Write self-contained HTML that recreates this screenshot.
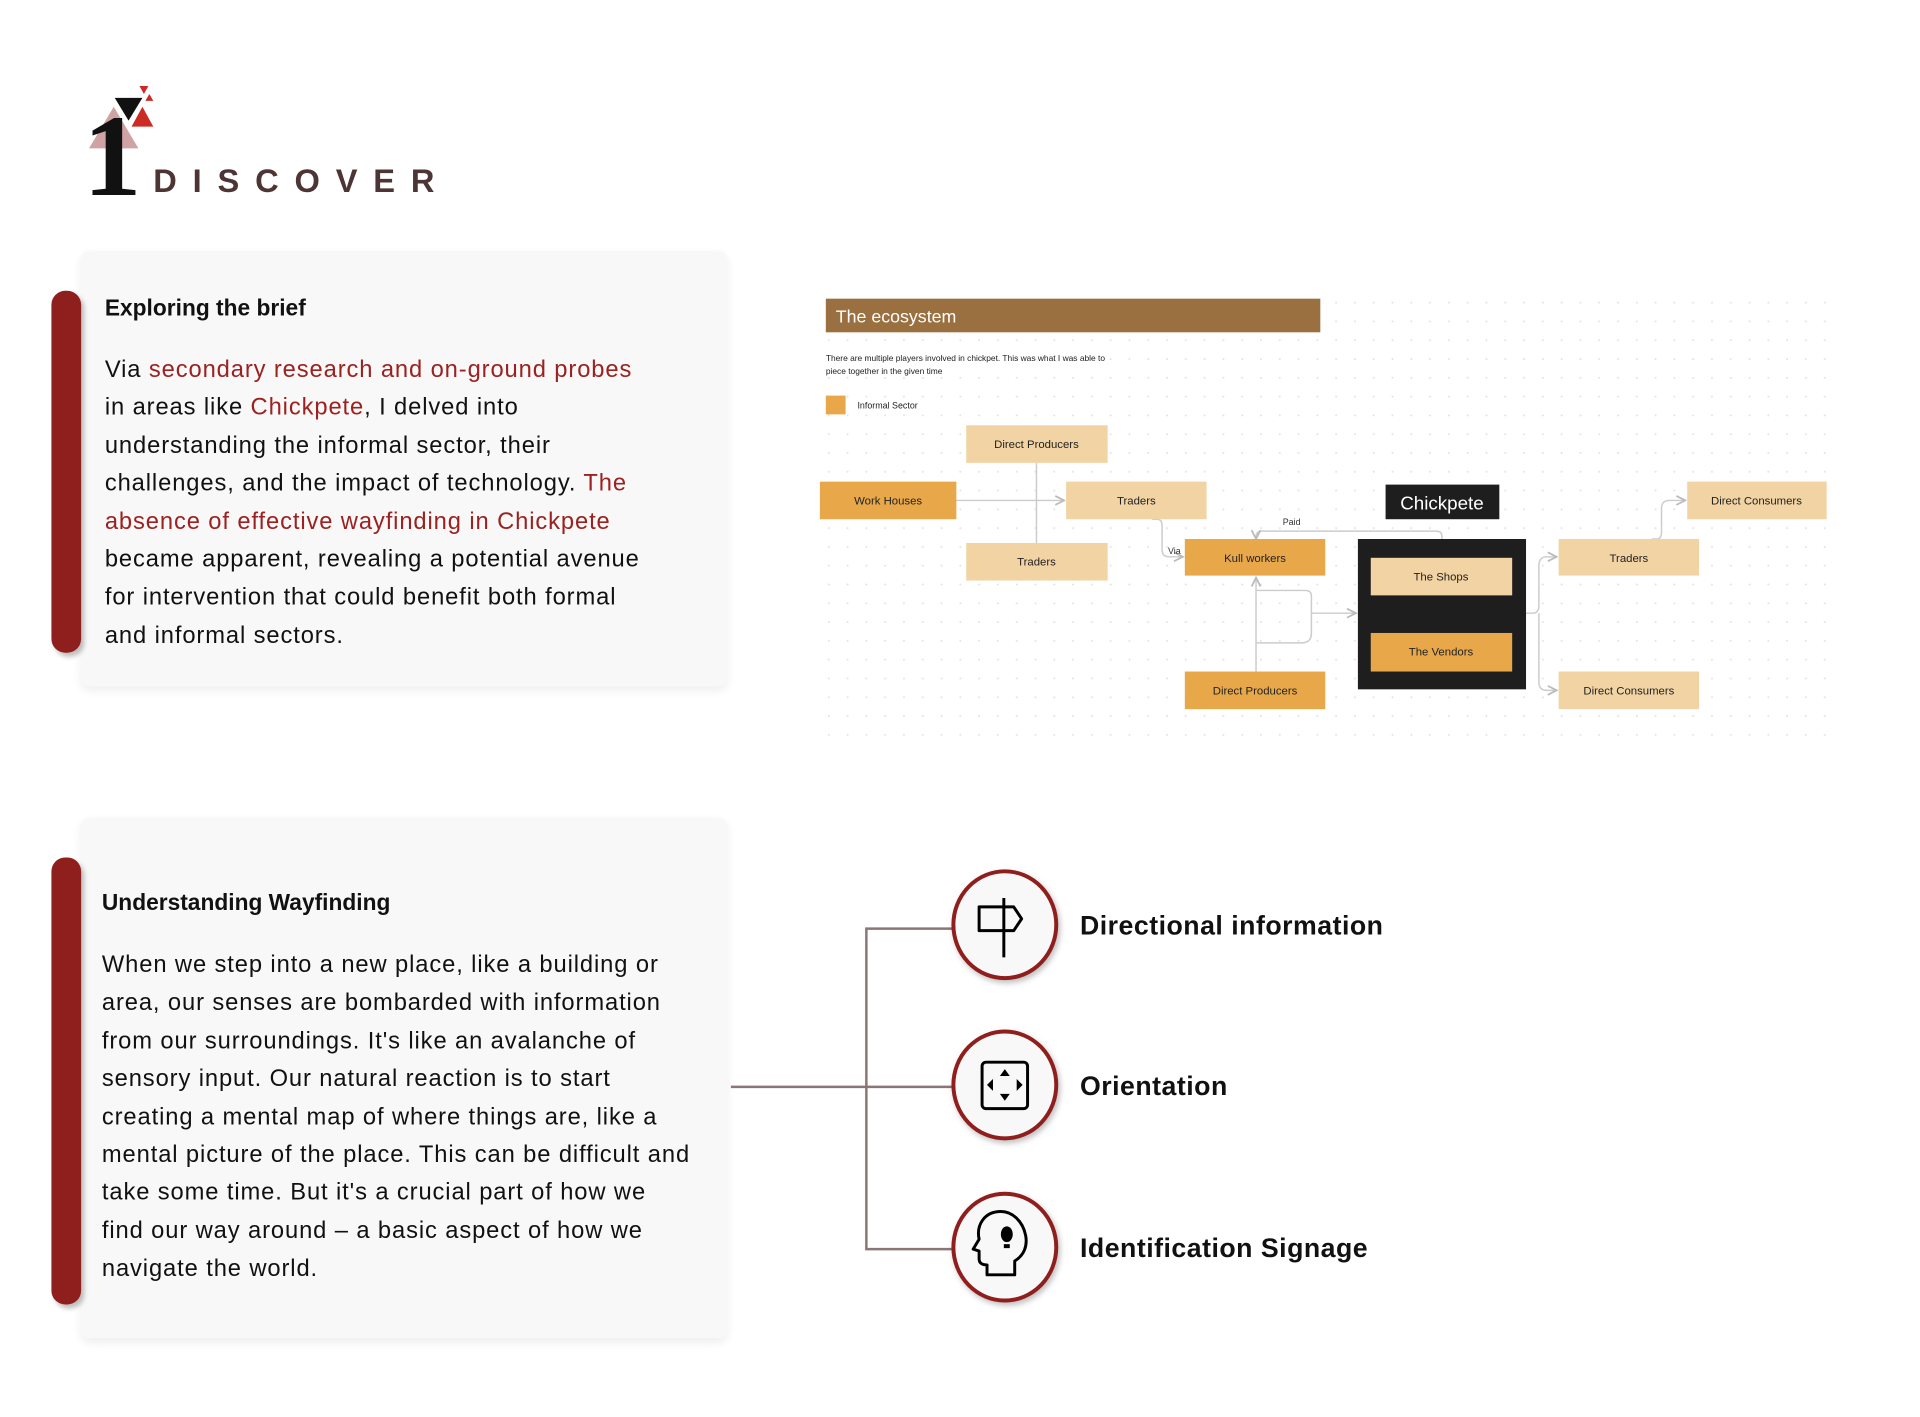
<!DOCTYPE html>
<html><head><meta charset="utf-8"><style>
*{margin:0;padding:0;box-sizing:border-box}
body{width:1920px;height:1417px;background:#fff;overflow:hidden;font-family:"Liberation Sans",sans-serif;color:#111}
#w{position:absolute;left:0;top:0;width:1920px;height:1417px;transform:scale(0.989);transform-origin:0 0}
.card{position:absolute;background:#f8f8f8;border-radius:8px;box-shadow:0 4px 10px rgba(0,0,0,0.07)}
.bar{position:absolute;background:#8f1f1d;border-radius:14px;box-shadow:3px 4px 5px rgba(0,0,0,0.25)}
.h{position:absolute;font-weight:bold;font-size:23px;white-space:nowrap}
.p{position:absolute;font-size:24px;line-height:38.4px;white-space:nowrap;letter-spacing:0.9px}
.r{color:#9b2220}
</style></head><body><div id="w">

<svg style="position:absolute;left:0;top:0" width="560" height="220">
<polygon points="90,150 140,150 115,108" fill="#cfa3a3"/>
<polygon points="116,99 144,99 130,122" fill="#111"/>
<polygon points="133,128 155,128 144,108" fill="#cc2a24"/>
<polygon points="141,87 150,87 145.5,95" fill="#cc2a24"/>
<polygon points="147,102 155,102 151,95" fill="#cc2a24"/>
<text x="84" y="197" font-family="Liberation Serif" font-weight="bold" font-size="118" fill="#111">1</text>
<text x="155" y="194" font-family="Liberation Sans" font-weight="bold" font-size="33" fill="#4d3535" letter-spacing="16">DISCOVER</text>
</svg>

<div class="card" style="left:82px;top:254px;width:653px;height:440px"></div>
<div class="bar" style="left:52px;top:294px;width:30px;height:366px"></div>
<div class="h" style="left:106px;top:298px">Exploring the brief</div>
<div class="p" style="left:106px;top:355px">Via <span class="r">secondary research and on-ground probes</span><br>in areas like <span class="r">Chickpete</span>, I delved into<br>understanding the informal sector, their<br>challenges, and the impact of technology. <span class="r">The</span><br><span class="r">absence of effective wayfinding in Chickpete</span><br>became apparent, revealing a potential avenue<br>for intervention that could benefit both formal<br>and informal sectors.</div>

<div class="card" style="left:82px;top:827px;width:653px;height:526px"></div>
<div class="bar" style="left:52px;top:867px;width:30px;height:452px"></div>
<div class="h" style="left:103px;top:899px">Understanding Wayfinding</div>
<div class="p" style="left:103px;top:957px">When we step into a new place, like a building or<br>area, our senses are bombarded with information<br>from our surroundings. It's like an avalanche of<br>sensory input. Our natural reaction is to start<br>creating a mental map of where things are, like a<br>mental picture of the place. This can be difficult and<br>take some time. But it's a crucial part of how we<br>find our way around – a basic aspect of how we<br>navigate the world.</div>

<svg style="position:absolute;left:0;top:0" width="1920" height="1417" font-family="Liberation Sans">
<defs>
<pattern id="dots" width="19" height="19" patternUnits="userSpaceOnUse"><circle cx="2" cy="2" r="1" fill="#e2e2e2"/></pattern>
<marker id="ar" markerWidth="8" markerHeight="8" refX="7" refY="4" orient="auto"><path d="M1,1 L7,4 L1,7" fill="none" stroke="#bbb" stroke-width="1.2"/></marker>
</defs>
<rect x="832" y="295" width="1030" height="455" fill="url(#dots)"/>
<rect x="835" y="302" width="500" height="34" fill="#9a7040"/>
<text x="845" y="326" font-size="18" fill="#fff">The ecosystem</text>
<text x="835" y="365" font-size="8.5" fill="#222">There are multiple players involved in chickpet. This was what I was able to</text>
<text x="835" y="378" font-size="8.5" fill="#222">piece together in the given time</text>
<rect x="835" y="400" width="20" height="19" fill="#e8a84a"/>
<text x="867" y="413" font-size="9" fill="#222">Informal Sector</text>

<g stroke="#ccc" stroke-width="1.5" fill="none">
<path d="M1048,468 V549"/>
<path d="M967,506 H1076" marker-end="url(#ar)"/>
<path d="M1165,525 H1170 Q1175,525 1175,532 V556 Q1175,563 1182,563 H1196" marker-end="url(#ar)"/>
<path d="M1458,545 V542 Q1458,537 1452,537 H1276 Q1270,537 1270,543 V545" marker-end="url(#ar)"/>
<path d="M1270,679 V584" marker-end="url(#ar)"/>
<path d="M1270,597 H1320 Q1326,597 1326,603 V640 Q1326,650 1316,650 H1270"/>
<path d="M1326,620 H1371" marker-end="url(#ar)"/>
<path d="M1543,620 H1550 Q1556,620 1556,612 V572 Q1556,563 1564,563 H1574" marker-end="url(#ar)"/>
<path d="M1556,620 V690 Q1556,698 1564,698 H1574"  marker-end="url(#ar)"/>
<path d="M1670,545 H1675 Q1680,545 1680,538 V514 Q1680,506 1688,506 H1704" marker-end="url(#ar)"/>
</g>
<text x="1297" y="531" font-size="9" fill="#333">Paid</text>
<text x="1181" y="560" font-size="9" fill="#333">Via</text>

<g font-size="11.5" text-anchor="middle" fill="#222">
<rect x="977" y="430" width="143" height="38" fill="#f2d3a3"/><text x="1048" y="453">Direct Producers</text>
<rect x="829" y="487" width="138" height="38" fill="#e8a84a"/><text x="898" y="510">Work Houses</text>
<rect x="1078" y="487" width="142" height="38" fill="#f2d3a3"/><text x="1149" y="510">Traders</text>
<rect x="977" y="549" width="143" height="38" fill="#f2d3a3"/><text x="1048" y="572">Traders</text>
<rect x="1198" y="545" width="142" height="37" fill="#e8a84a"/><text x="1269" y="568">Kull workers</text>
<rect x="1373" y="545" width="170" height="152" fill="#1e1e1e"/>
<rect x="1386" y="564" width="143" height="38" fill="#f2d3a3"/><text x="1457" y="587">The Shops</text>
<rect x="1386" y="640" width="143" height="39" fill="#e8a84a"/><text x="1457" y="663">The Vendors</text>
<rect x="1198" y="679" width="142" height="38" fill="#e8a84a"/><text x="1269" y="702">Direct Producers</text>
<rect x="1576" y="545" width="142" height="37" fill="#f2d3a3"/><text x="1647" y="568">Traders</text>
<rect x="1706" y="487" width="141" height="38" fill="#f2d3a3"/><text x="1776" y="510">Direct Consumers</text>
<rect x="1576" y="679" width="142" height="38" fill="#f2d3a3"/><text x="1647" y="702">Direct Consumers</text>
</g>
<rect x="1401" y="490" width="115" height="35" fill="#1e1e1e"/>
<text x="1458" y="515" font-size="19" fill="#fff" text-anchor="middle">Chickpete</text>

<g stroke="#8a7676" stroke-width="2.5" fill="none">
<path d="M739,1099 H964"/>
<path d="M964,939 H876 V1263 H964"/>
</g>
<g fill="#f8f8f8" stroke="#8f1f1d" stroke-width="4">
<ellipse cx="1016" cy="935" rx="52" ry="54" style="filter:drop-shadow(2px 3px 3px rgba(0,0,0,.25))"/>
<ellipse cx="1016" cy="1097" rx="52" ry="54" style="filter:drop-shadow(2px 3px 3px rgba(0,0,0,.25))"/>
<ellipse cx="1016" cy="1261" rx="52" ry="54" style="filter:drop-shadow(2px 3px 3px rgba(0,0,0,.25))"/>
</g>
<g stroke="#000" stroke-width="3" fill="none" stroke-linejoin="round">
<path d="M1015,908 V968"/>
<path d="M990,917 H1025 L1033,929 L1025,941 H990 Z"/>
<rect x="993" y="1074" width="46" height="47" rx="4"/>
<path d="M1012,1225 c-17,0 -25,14 -22,28 l-6,10 l6,2 v8 c0,4 3,6 8,6 v10 h28 v-14 c10,-6 13,-16 11,-26 c-3,-15 -14,-24 -25,-24z"/>
</g>
<g fill="#000">
<polygon points="1016,1081 1021,1088 1011,1088"/>
<polygon points="1016,1113 1021,1106 1011,1106"/>
<polygon points="998,1097 1004,1091 1004,1103"/>
<polygon points="1034,1097 1028,1091 1028,1103"/>
<ellipse cx="1018" cy="1248" rx="6" ry="8"/>
<rect x="1015" y="1258" width="6" height="4"/>
</g>
<g font-weight="bold" font-size="27" fill="#111" letter-spacing="0.5">
<text x="1092" y="945">Directional information</text>
<text x="1092" y="1107">Orientation</text>
<text x="1092" y="1271">Identification Signage</text>
</g>
</svg>
</div></body></html>
